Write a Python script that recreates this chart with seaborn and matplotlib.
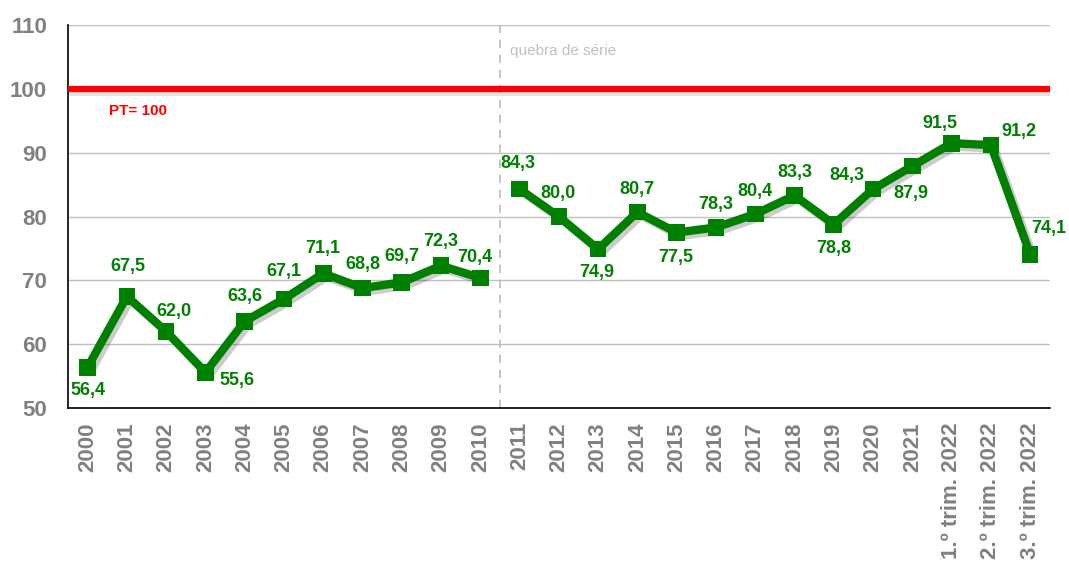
import numpy as np
import pandas as pd
import matplotlib
matplotlib.use("Agg")
import matplotlib.pyplot as plt
import matplotlib.patheffects as pe
import seaborn as sns

# dados
periodos = ["2000", "2001", "2002", "2003", "2004", "2005", "2006", "2007", "2008", "2009", "2010",
            "2011", "2012", "2013", "2014", "2015", "2016", "2017", "2018", "2019", "2020", "2021",
            "1.º trim. 2022", "2.º trim. 2022", "3.º trim. 2022"]
valores = [56.4, 67.5, 62.0, 55.6, 63.6, 67.1, 71.1, 68.8, 69.7, 72.3, 70.4,
           84.3, 80.0, 74.9, 80.7, 77.5, 78.3, 80.4, 83.3, 78.8, 84.3, 87.9,
           91.5, 91.2, 74.1]
serie = ["antiga"] * 11 + ["nova"] * 14
referencia_pt = 100

df = pd.DataFrame({"pos": np.arange(len(periodos)), "valor": valores, "serie": serie})

# deslocamento dos rótulos (pixels)
desloc = [(0, -23), (1, 30), (8, 20), (32, -8), (0, 25), (0, 27), (0, 25), (0, 24), (0, 26), (0, 24),
          (-6, 20), (-2, 26), (-1, 23), (-1, -23), (0, 23), (-1, -25), (0, 23), (0, 23), (0, 23),
          (0, -24), (-26, 14), (-1, -27), (-12, 20), (28, 14), (19, 26)]

sns.set_theme(style="white")
plt.rcParams['font.family'] = ['Liberation Sans', 'DejaVu Sans']

fig = plt.figure(figsize=(10.69, 5.70), dpi=100)
ax = fig.add_axes([0.0636, 0.284, 0.9184, 0.672])

verde = "#008000"
sombra = [pe.SimpleLineShadow(offset=(2.5, -2.5), alpha=0.2, shadow_color="black"), pe.Normal()]

sns.lineplot(data=df, x="pos", y="valor", hue="serie", palette=[verde, verde],
             marker="s", markersize=12, markeredgewidth=0, linewidth=6,
             legend=False, ax=ax, path_effects=sombra)

# linha de referência PT = 100
ax.axhline(referencia_pt, color="red", lw=4.5, zorder=3,
           path_effects=[pe.SimpleLineShadow(offset=(1.5, -3), alpha=0.12), pe.Normal()])
ax.text(0.55, 96.6, "PT= 100", color="red", fontsize=11, fontweight="bold", va="center", ha="left")

# quebra de série
ax.axvline(10.5, color="#bbbbbb", lw=1.2, ls=(0, (5, 4)), zorder=1)
ax.text(10.75, 106, "quebra de série", color="#c0c0c0", fontsize=11, va="center", ha="left")

for x, v, (dx, dy) in zip(df["pos"], valores, desloc):
    ax.annotate(f"{v:.1f}".replace(".", ","), (x, v), xytext=(dx, dy), textcoords="offset pixels",
                ha="center", va="center", color=verde, fontsize=13, fontweight="bold")

ax.set_xlim(-0.5, len(periodos) - 0.5)
ax.set_ylim(50, 110)
ax.set_yticks(range(50, 111, 10))
ax.set_xticks(np.arange(len(periodos)))
ax.set_xticklabels(periodos, rotation=90)
ax.set_xticks(np.arange(-0.5, len(periodos)), minor=True)
ax.tick_params(axis="x", which="major", length=0, pad=10, labelsize=16, labelcolor="#808080")
ax.tick_params(axis="x", which="minor", length=7, width=1.2, color="black", direction="out")
ax.tick_params(axis="y", length=0, pad=15, labelsize=16, labelcolor="#808080")
for lab in ax.get_xticklabels() + ax.get_yticklabels():
    lab.set_fontweight("bold")

ax.grid(axis="y", color="#c0c0c0", lw=1)
ax.set_axisbelow(True)
for s in ["top", "right"]:
    ax.spines[s].set_visible(False)
ax.spines["left"].set_color("black")
ax.spines["bottom"].set_color("black")
ax.spines["left"].set_linewidth(1.2)
ax.spines["bottom"].set_linewidth(1.2)
ax.set_xlabel("")
ax.set_ylabel("")

fig.savefig("out.png", dpi=100)
